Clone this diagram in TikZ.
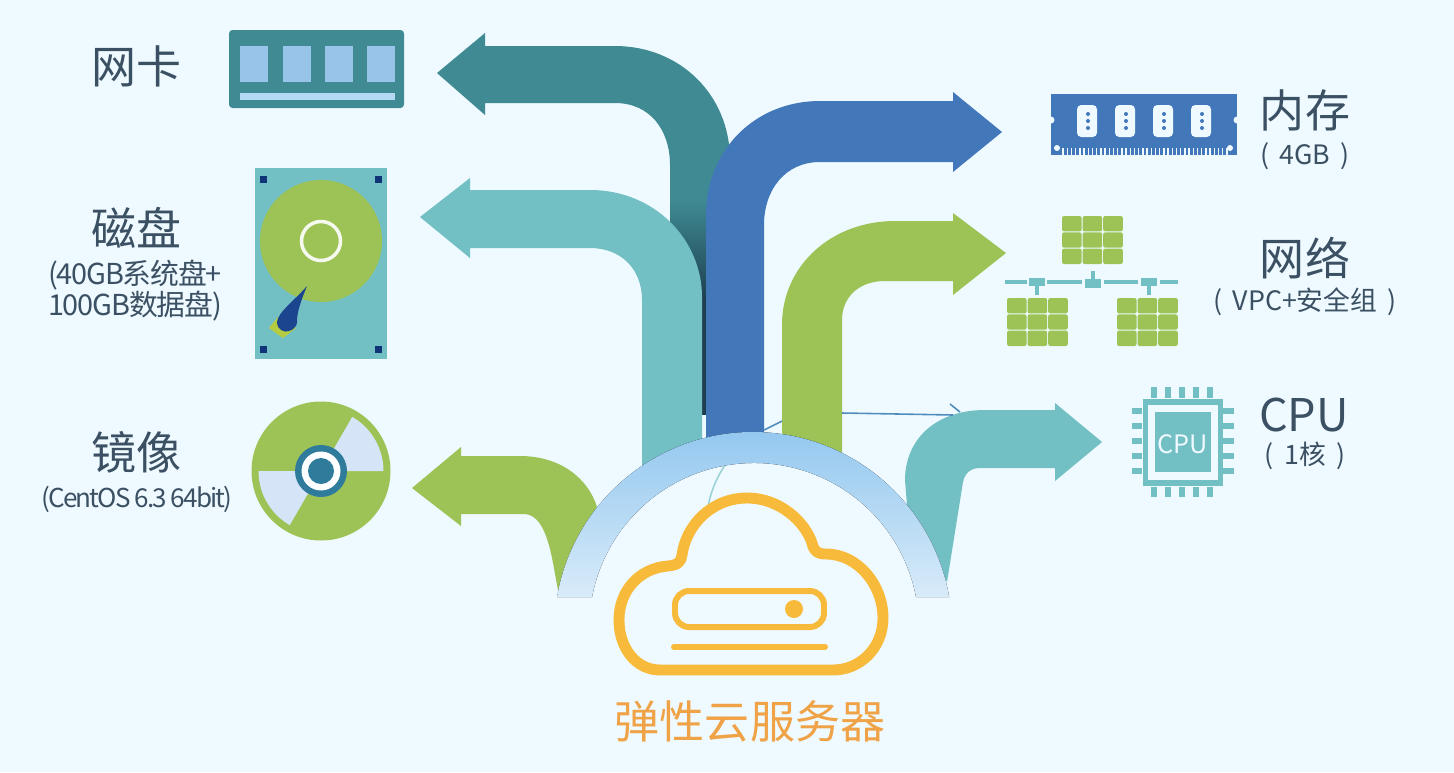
\documentclass[tikz,border=0pt]{standalone}
\usepackage{fontspec}
\usetikzlibrary{positioning}
\newfontfamily\cjk{Noto Sans CJK SC}
\newfontfamily\cjktight[LetterSpace=-4]{Noto Sans CJK SC}
\newfontfamily\cjktighter[LetterSpace=-7.2]{Noto Sans CJK SC}

\definecolor{bgblue}{HTML}{EEFAFF}
\definecolor{tealdark}{HTML}{3F8A93}
\definecolor{tealshade}{HTML}{1D3F50}
\definecolor{teallight}{HTML}{72BFC4}
\definecolor{bluemain}{HTML}{4278BA}
\definecolor{greenmain}{HTML}{9DC357}
\definecolor{archtop}{HTML}{8EC5EF}
\definecolor{archbottom}{HTML}{D8EBF9}
\definecolor{cloudyellow}{HTML}{F7BA3A}
\definecolor{cloudtext}{HTML}{F0A246}
\definecolor{labeltext}{HTML}{3B5063}
\definecolor{paleblue}{HTML}{D5E5F7}
\definecolor{navy}{HTML}{0F3578}
\definecolor{needleblue}{HTML}{1B468F}
\definecolor{needlebase}{HTML}{B5CB40}
\definecolor{hubblue}{HTML}{2E7B9C}
\definecolor{cardwindow}{HTML}{97C4E8}
\definecolor{cardstrip}{HTML}{B5D9F5}

\begin{document}
\begin{tikzpicture}[x=0.01cm, y=-0.01cm,
    titletext/.style={text=labeltext, font=\cjk\fontsize{12.8}{14}\selectfont, inner sep=0pt},
    notetext/.style={text=labeltext, font=\cjk\fontsize{7.6}{9}\selectfont, inner sep=0pt},
    disknote/.style={text=labeltext, font=\cjktight\fontsize{8.2}{9}\selectfont, inner sep=0pt},
    imagenote/.style={text=labeltext, font=\cjktighter\fontsize{7.4}{9}\selectfont, inner sep=0pt},
    thinline/.style={draw=#1, line width=0.45pt},
    pin/.style={teallight, line width=1.6pt},
    wire/.style={teallight, line width=1pt}]
    \fill[bgblue] (0,0) rectangle (1454,772);

    \fill[tealdark] (437,73) -- (485,33) -- (485,46) -- (615,46)
        .. controls (680,46) and (730,95) .. (730,160) -- (730,205) -- (670,205) -- (670,165)
        .. controls (670,130) and (650,103) .. (615,103) -- (485,103) -- (485,115) -- cycle;
    \fill[top color=tealdark, bottom color=tealshade] (670,200) rectangle (730,300);
    \fill[tealshade] (670,300) rectangle (730,415);
    \fill[teallight] (420,217) -- (470,178) -- (470,190) -- (590,190)
        .. controls (655,190) and (702,240) .. (702,297) -- (702,455) -- (642,490) -- (642,300)
        .. controls (642,268) and (620,248) .. (590,248) -- (470,248) -- (470,258) -- cycle;
    \fill[bluemain] (1002,132) -- (953,92) -- (953,101) -- (820,101)
        .. controls (755,101) and (706,150) .. (706,215) -- (706,450) -- (764,450) -- (764,225)
        .. controls (764,190) and (785,162) .. (820,162) -- (953,162) -- (953,172) -- cycle;
    \fill[greenmain] (1006,253) -- (953,213) -- (953,221) -- (895,221)
        .. controls (832,221) and (782,265) .. (782,325) -- (782,450) -- (842,470) -- (842,320)
        .. controls (842,298) and (858,281) .. (885,281) -- (953,281) -- (953,295) -- cycle;
    \fill[greenmain] (412,488) -- (461,447) -- (461,456) -- (520,456)
        .. controls (560,456) and (588,478) .. (597,507) -- (558,590)
        .. controls (552,560) and (548,516) .. (525,514) -- (461,514) -- (461,526) -- cycle;
    \fill[teallight] (1102,442) -- (1055,403) -- (1055,410) -- (985,410)
        .. controls (935,410) and (905,440) .. (905,480) -- (907,505) -- (947,582) -- (963,482)
        .. controls (965,472) and (972,468) .. (980,468) -- (1055,468) -- (1055,481) -- cycle;

    \draw[thinline=bluemain!70!teallight] (842,413) -- (953,415);
    \draw[thinline=bluemain!70!teallight] (950,404) -- (960,412);
    \draw[thinline=bluemain!70!teallight] (764,430) -- (782,421);
    \draw[thinline=teallight!70!white] (725,465) .. controls (715,480) and (710,495) .. (708,507);

    \fill[top color=archtop, bottom color=archbottom] (557,597)
        arc[start angle=189.83, end angle=350.17, radius=199] -- (916,597)
        arc[start angle=349.2, end angle=190.8, radius=164.9] -- cycle;

    \draw[cloudyellow, line width=3.1pt, line join=round] (660,670)
        .. controls (636,670) and (619,648) .. (619,620) .. controls (619,590) and (640,568) .. (668,566)
        .. controls (678,565) and (681,562) .. (682,555) .. controls (686,525) and (712,498) .. (747,498)
        .. controls (780,498) and (805,522) .. (812,543) .. controls (814,552) and (818,554) .. (826,554)
        .. controls (858,554) and (883,585) .. (883,618) .. controls (883,648) and (860,670) .. (833,670) -- cycle;
    \draw[cloudyellow, line width=1.7pt, rounded corners=4pt] (675,591) rectangle (824,627);
    \fill[cloudyellow] (794,609) circle[radius=9];
    \draw[cloudyellow, line width=1.7pt, line cap=round] (674,647) -- (825,647);
    \node[font=\cjk\fontsize{12.8}{14}\selectfont, text=cloudtext, inner sep=0pt] (cloudlabel) at (750,721) {弹性云服务器};

    \fill[tealdark, rounded corners=1pt] (229,30) rectangle (404,108);
    \foreach \x in {240,283,325,367}
        \fill[cardwindow] (\x,46) rectangle ++(28,36);
    \fill[cardstrip] (240,93) rectangle (395,100);
    \node[titletext] (netcard) at (137,66) {网卡};

    \fill[teallight] (255,168) rectangle (387,359);
    \foreach \x/\y in {263/179,378/179,263/349,378/349}
        \fill[navy] (\x-3.5,\y-3.5) rectangle ++(7,7);
    \fill[greenmain] (321,241) circle[radius=61];
    \draw[white!90!greenmain, line width=1pt] (321,241) circle[radius=19.5];
    \fill[needlebase] (278,317) -- (269,328) -- (283,338) -- (296,328) -- cycle;
    \fill[needleblue] (307,286) .. controls (295,300) and (278,312) .. (277,322)
        .. controls (277,330) and (285,333) .. (289,331) .. controls (296,329) and (298,323) .. (297,319)
        .. controls (298,308) and (303,296) .. (307,286) -- cycle;
    \node[titletext] (disklabel) at (137,228) {磁盘};
    \node[disknote] (disknotea) at (135,275) {(40GB系统盘+};
    \node[disknote] (disknoteb) at (135,306) {100GB数据盘)};

    \fill[greenmain] (321,471) circle[radius=69.5];
    \fill[paleblue] (321,471) -- (383.5,471) arc[start angle=0, end angle=-60, radius=62.5] -- cycle;
    \fill[paleblue] (321,471) -- (258.5,471) arc[start angle=180, end angle=120, radius=62.5] -- cycle;
    \fill[hubblue] (321,471) circle[radius=26];
    \fill[white!90!bgblue] (321,471) circle[radius=19.5];
    \fill[hubblue] (321,471) circle[radius=13];
    \node[titletext] (imagelabel) at (137,452) {镜像};
    \node[imagenote] (imagetext) at (137,499) {(CentOS 6.3 64bit)};

    \fill[bluemain] (1051,94) rectangle (1237,155);
    \foreach \x in {1051,1237}
        \fill[bgblue] (\x,120) circle[radius=3.5];
    \foreach \t in {0,...,39}
        \draw[bgblue, line width=0.4pt] (1063+\t*4.2,148) -- (1063+\t*4.2,155);
    \foreach \x in {1057,1230}
        \fill[bgblue] (\x,148) circle[radius=3];
    \foreach \x in {1077,1115,1153,1191} {
        \fill[bgblue, rounded corners=1.2pt] (\x,105) rectangle ++(20,32);
        \foreach \y in {114,121,128}
            \fill[bluemain] (\x+11,\y) circle[radius=2];
    }
    \node[titletext] (memlabel) at (1305,110) {内存};
    \node[notetext] (memnote) at (1305,156) {(~\,4GB\,~)};

    \foreach \gx/\gy in {1062/216,1007/298,1117/298}
        \foreach \i in {0,1,2}
            \foreach \j in {0,1,2}
                \fill[greenmain, rounded corners=0.6pt] (\gx+\i*20.6,\gy+\j*16.3) rectangle ++(19.6,15.4);
    \foreach \a/\b in {1005/1027,1047/1082,1104/1138,1160/1178}
        \draw[wire] (\a,282) -- (\b,282);
    \foreach \x in {1037,1149} {
        \fill[teallight] (\x-8,278) rectangle ++(16,8);
        \draw[wire] (\x,284) -- (\x,295);
    }
    \fill[teallight] (1085,279) rectangle (1101,288);
    \draw[wire] (1093,282) -- (1093,271);
    \node[titletext] (netlabel) at (1305,258) {网络};
    \node[notetext] (netnote) at (1305,302) {(~\,VPC+安全组\,~)};

    \draw[teallight, line width=1.5pt] (1145.5,402) rectangle (1220.5,483);
    \fill[teallight] (1155,412) rectangle (1211,472);
    \foreach \x in {1154,1168,1182,1196,1210} {
        \draw[pin] (\x,387) -- (\x,398);
        \draw[pin] (\x,487) -- (\x,497);
    }
    \foreach \y in {411,426,441,456,471} {
        \draw[pin] (1132,\y) -- (1142,\y);
        \draw[pin] (1223,\y) -- (1234,\y);
    }
    \node[font=\cjk\fontsize{7.2}{9}\selectfont, text=bgblue, inner sep=0pt] (chiplabel) at (1183,444) {CPU};
    \node[titletext] (cpulabel) at (1304,415) {CPU};
    \node[notetext] (cpunote) at (1305,456) {(~\,1核\,~)};
\end{tikzpicture}
\end{document}
